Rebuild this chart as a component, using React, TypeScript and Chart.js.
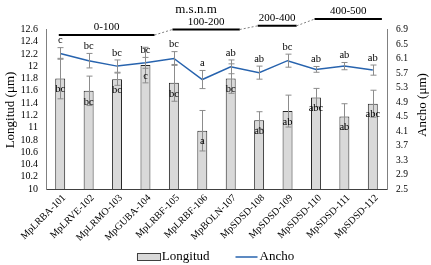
import React, { useEffect, useRef } from 'react';
import { Chart, registerables } from 'chart.js';

Chart.register(...registerables);

const categories = ['MpLRBA-101', 'MpLRVE-102', 'MpLRMO-103', 'MpGUBA-104', 'MpLRBF-105', 'MpLRBF-106', 'MpBOLN-107', 'MpSDSD-108', 'MpSDSD-109', 'MpSDSD-110', 'MpSDSD-111', 'MpSDSD-112'];
const longitud = [11.80, 11.60, 11.79, 12.02, 11.73, 10.95, 11.80, 11.12, 11.27, 11.49, 11.18, 11.39];
const longitudErr = [0.33, 0.24, 0.10, 0.29, 0.30, 0.33, 0.24, 0.14, 0.26, 0.15, 0.21, 0.22];
const longitudLetters = ['bc', 'bc', 'bc', 'c', 'bc', 'a', 'bc', 'ab', 'ab', 'abc', 'ab', 'abc'];
const ancho = [6.24, 6.04, 5.89, 5.98, 6.10, 5.52, 5.87, 5.71, 6.04, 5.80, 5.89, 5.78];
const anchoErr = [0.16, 0.20, 0.17, 0.15, 0.19, 0.25, 0.19, 0.18, 0.18, 0.08, 0.10, 0.14];
const anchoLetters = ['c', 'bc', 'bc', 'bc', 'bc', 'a', 'ab', 'ab', 'bc', 'ab', 'ab', 'ab'];
const leftTicks = [10, 10.2, 10.4, 10.6, 10.8, 11, 11.2, 11.4, 11.6, 11.8, 12, 12.2, 12.4, 12.6];
const rightTicks = [2.5, 2.9, 3.3, 3.7, 4.1, 4.5, 4.9, 5.3, 5.7, 6.1, 6.5, 6.9];
const groupLabels = ['0-100', '100-200', '200-400', '400-500'];
const groupStart = [0, 4, 7, 9];
const groupEnd = [3, 6, 8, 11];
const groupLevel = [12.51, 12.60, 12.66, 12.77];
const titleText = 'm.s.n.m';
const leftTitle = 'Longitud (μm)';
const rightTitle = 'Ancho (μm)';

const FONT = '"Liberation Serif", "Times New Roman", serif';
const BLUE = '#2763AE';
const BAR_FILL = '#D9D9D9';
const ERR = '#8C8C8C';

const overlay = {
  id: 'overlay',
  afterDatasetsDraw(chart: any) {
    const { ctx } = chart;
    const x = chart.scales.x;
    const y = chart.scales.y;
    const y2 = chart.scales.y2;
    const seg = (x0: number, y0: number, x1: number, y1: number) => {
      ctx.beginPath();
      ctx.moveTo(x0, y0);
      ctx.lineTo(x1, y1);
      ctx.stroke();
    };
    ctx.save();
    ctx.strokeStyle = ERR;
    ctx.lineWidth = 1;
    const cap = 3;
    categories.forEach((_, i) => {
      const px = Math.round(x.getPixelForValue(i)) + 0.5;
      let t = y.getPixelForValue(longitud[i] + longitudErr[i]);
      let b = y.getPixelForValue(longitud[i] - longitudErr[i]);
      seg(px, t, px, b); seg(px - cap, t, px + cap, t); seg(px - cap, b, px + cap, b);
      t = y2.getPixelForValue(ancho[i] + anchoErr[i]);
      b = y2.getPixelForValue(ancho[i] - anchoErr[i]);
      seg(px, t, px, b); seg(px - cap, t, px + cap, t); seg(px - cap, b, px + cap, b);
    });
    ctx.fillStyle = '#000';
    ctx.font = `10.5px ${FONT}`;
    ctx.textAlign = 'center';
    ctx.textBaseline = 'middle';
    categories.forEach((_, i) => {
      const px = x.getPixelForValue(i);
      ctx.fillText(longitudLetters[i], px, y.getPixelForValue(longitud[i]) + 11);
      ctx.fillText(anchoLetters[i], px, y2.getPixelForValue(ancho[i] + anchoErr[i]) - 7);
    });
    ctx.restore();
  },
  afterDraw(chart: any) {
    const { ctx, width } = chart;
    const x = chart.scales.x;
    const y = chart.scales.y;
    const cw = x.getPixelForValue(1) - x.getPixelForValue(0);
    ctx.save();
    const pts = groupLabels.map((_, g) => ({
      x0: x.getPixelForValue(groupStart[g]) - 0.05 * cw,
      x1: x.getPixelForValue(groupEnd[g]) + 0.32 * cw,
      yy: y.getPixelForValue(groupLevel[g]),
    }));
    ctx.strokeStyle = '#000';
    ctx.lineWidth = 2;
    pts.forEach((p) => {
      ctx.beginPath(); ctx.moveTo(p.x0, p.yy); ctx.lineTo(p.x1, p.yy); ctx.stroke();
    });
    ctx.strokeStyle = '#7F7F7F';
    ctx.lineWidth = 1;
    ctx.setLineDash([2, 2]);
    for (let g = 0; g < pts.length - 1; g++) {
      ctx.beginPath(); ctx.moveTo(pts[g].x1, pts[g].yy); ctx.lineTo(pts[g + 1].x0, pts[g + 1].yy); ctx.stroke();
    }
    ctx.setLineDash([]);
    ctx.fillStyle = '#000';
    ctx.font = `11px ${FONT}`;
    ctx.textAlign = 'center';
    ctx.textBaseline = 'bottom';
    pts.forEach((p, g) => ctx.fillText(groupLabels[g], (p.x0 + p.x1) / 2, p.yy - 2));
    ctx.font = `13px ${FONT}`;
    ctx.textBaseline = 'middle';
    ctx.fillText(titleText, 196, 10);
    ctx.save();
    ctx.translate(11, 110);
    ctx.rotate(-Math.PI / 2);
    ctx.fillText(leftTitle, 0, 0);
    ctx.restore();
    ctx.save();
    ctx.translate(423, 105);
    ctx.rotate(-Math.PI / 2);
    ctx.fillText(rightTitle, 0, 0);
    ctx.restore();
    ctx.font = `13px ${FONT}`;
    ctx.textAlign = 'left';
    const wL = ctx.measureText('Longitud').width;
    const wA = ctx.measureText('Ancho').width;
    const total = 24 + 1 + wL + 26 + 22 + 2 + wA;
    let lx = (width - total) / 2;
    const ly = 257;
    ctx.fillStyle = BAR_FILL;
    ctx.fillRect(lx, ly - 3, 24, 6);
    ctx.strokeStyle = '#404040';
    ctx.lineWidth = 1;
    ctx.strokeRect(Math.round(lx) + 0.5, ly - 3.5, 23, 7);
    ctx.fillStyle = '#000';
    ctx.fillText('Longitud', lx + 25, ly);
    lx += 25 + wL + 26;
    ctx.strokeStyle = BLUE;
    ctx.lineWidth = 1.5;
    ctx.beginPath(); ctx.moveTo(lx, ly); ctx.lineTo(lx + 22, ly); ctx.stroke();
    ctx.fillText('Ancho', lx + 24, ly);
    ctx.restore();
  },
};

export default function App() {
  const ref = useRef<HTMLCanvasElement | null>(null);
  useEffect(() => {
    if (!ref.current) return;
    const chart = new Chart(ref.current, {
      type: 'bar',
      data: {
        labels: categories,
        datasets: [
          {
            type: 'line',
            label: 'Ancho',
            data: ancho,
            yAxisID: 'y2',
            borderColor: BLUE,
            borderWidth: 1.5,
            pointRadius: 0,
            tension: 0,
            order: 0,
          } as any,
          {
            type: 'bar',
            label: 'Longitud',
            data: longitud,
            yAxisID: 'y',
            backgroundColor: BAR_FILL,
            borderColor: '#262626',
            borderWidth: 1,
            categoryPercentage: 1,
            barPercentage: 0.35,
            order: 1,
          },
        ],
      },
      options: {
        responsive: false,
        animation: false,
        devicePixelRatio: 1,
        layout: { padding: { top: 29.5, left: 0, right: 0, bottom: 0 } },
        plugins: { legend: { display: false }, tooltip: { enabled: false } },
        scales: {
          x: {
            grid: { display: false, drawTicks: false },
            border: { display: true, color: '#404040', width: 1 },
            ticks: {
              color: '#000',
              font: { family: FONT, size: 10 },
              minRotation: 45,
              maxRotation: 45,
              autoSkip: false,
              padding: 3,
              labelOffset: 4,
            },
            afterFit: (s: any) => { s.height = 76; },
          },
          y: {
            position: 'left',
            min: 10,
            max: 12.6,
            grid: { display: false, drawTicks: false },
            border: { display: true, color: '#808080', width: 1 },
            ticks: {
              color: '#000',
              font: { family: FONT, size: 10 },
              padding: 8,
              autoSkip: false,
              callback: (v: any) => String(Math.round(Number(v) * 10) / 10),
            },
            afterBuildTicks: (s: any) => { s.ticks = leftTicks.map((v) => ({ value: v })); },
            afterFit: (s: any) => { s.width = 46; },
          },
          y2: {
            position: 'right',
            min: 2.5,
            max: 6.9,
            grid: { display: false, drawTicks: false },
            border: { display: true, color: '#808080', width: 1 },
            ticks: {
              color: '#000',
              font: { family: FONT, size: 9.5 },
              padding: 9,
              autoSkip: false,
              callback: (v: any) => String(Math.round(Number(v) * 10) / 10),
            },
            afterBuildTicks: (s: any) => { s.ticks = rightTicks.map((v) => ({ value: v })); },
            afterFit: (s: any) => { s.width = 44; },
          },
        },
      } as any,
      plugins: [overlay],
    });
    return () => chart.destroy();
  }, []);
  return (
    <div style={{ position: 'absolute', left: 0, top: 0, width: 431, height: 265, background: '#fff' }}>
      <canvas ref={ref} width={431} height={265} style={{ display: 'block' }} />
    </div>
  );
}
